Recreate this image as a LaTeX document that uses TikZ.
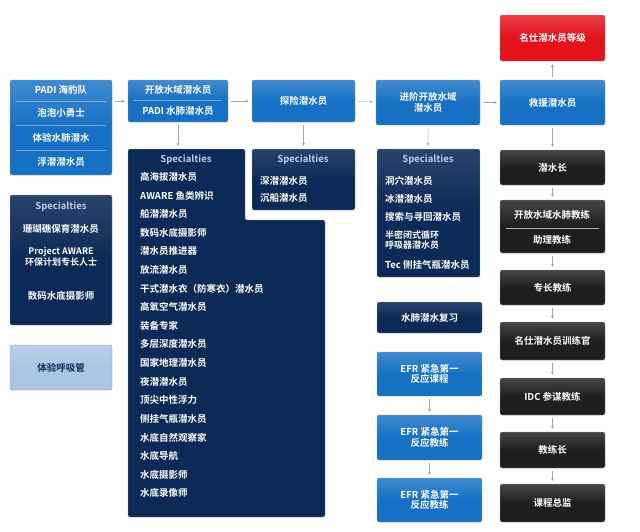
\documentclass[tikz,border=0pt]{standalone}
\usepackage{fontspec}
\setmainfont{Noto Sans CJK SC}[BoldFont={Noto Sans CJK SC Bold}]
\begin{document}
\begin{tikzpicture}[x=1pt,y=-1pt,
  every node/.style={font=\bfseries\fontsize{9.5}{10.5}\selectfont, text=white, inner sep=0pt},
  bbox/.style={draw=black!40, rounded corners=2pt, top color=#1!82!white, bottom color=#1, middle color=#1},
  blue/.style={bbox=blue1},
  navy/.style={draw=black!40, rounded corners=2pt, top color=navy1!88!white, bottom color=navy1, middle color=navy1},
  blk/.style={bbox=blk1},
  redb/.style={bbox=red1},
  light/.style={bbox=light1, text=navy1},
  arr/.style={->, >=stealth, draw=gray!70, thin, shorten >=3pt, shorten <=3pt},
  hd/.style={text=light1!80!white},
  it/.style={anchor=west}]
\definecolor{blue1}{HTML}{1671C4}
\definecolor{navy1}{HTML}{0C2A57}
\definecolor{blk1}{HTML}{1E1E1E}
\definecolor{red1}{HTML}{E3131B}
\definecolor{light1}{HTML}{A9C6E4}
\useasboundingbox[fill=white] (0,0) rectangle (640,531);
\newcommand\bx[7]{\node[#6, minimum width={(#4-#2)*1pt}, minimum height={(#5-#3)*1pt}, align=center] (#1) at ({(#2+#4)/2},{(#3+#5)/2}) {#7};}
% column 1
\bx{sea}{10}{80}{112}{175}{blue}{}
\node at (61,90) {PADI 海豹队};
\node at (61,113) {泡泡小勇士};
\node at (61,138) {体验水肺潜水};
\node at (61,162) {浮潜潜水员};
\draw[light1!70!blue1] (16,101) -- (106,101) (16,125) -- (106,125) (16,150) -- (106,150);
\bx{sp1}{10}{195}{112}{325}{navy}{}
\node[hd] at (61,207) {Specialties};
\node at (61,229) {珊瑚礁保育潜水员};
\node[align=center,font=\bfseries\fontsize{9}{9.5}\selectfont] at (61,257) {Project AWARE\\环保计划专长人士};
\node at (61,296) {数码水底摄影师};
\bx{snork}{10}{345}{112}{390}{light}{体验呼吸管}
% column 2
\bx{ow}{128}{80}{228}{122}{blue}{}
\node at (178,90) {开放水域潜水员};
\node at (178,111) {PADI 水肺潜水员};
\draw[light1!70!blue1] (134,100) -- (222,100);
\draw[rounded corners=2pt, fill=navy1, draw=black!40] (128,149) -- (245,149) -- (245,220) -- (325,220) -- (325,517) -- (128,517) -- cycle;
\node[hd] (sp2) at (186,160) {Specialties};
\foreach \t [count=\i from 0] in {高海拔潜水员,AWARE 鱼类辨识,船潜潜水员,数码水底摄影师,潜水员推进器,放流潜水员,干式潜水衣（防寒衣）潜水员,高氧空气潜水员,装备专家,多层深度潜水员,国家地理潜水员,夜潜潜水员,顶尖中性浮力,侧挂气瓶潜水员,水底自然观察家,水底导航,水底摄影师,水底录像师}
  \node[it] at (140,{177+\i*18.6}) {\t};
% column 3
\bx{adv}{252}{80}{355}{122}{blue}{探险潜水员}
\bx{sp3}{252}{149}{355}{210}{navy}{}
\node[hd] at (303,160) {Specialties};
\node[it] at (260,181) {深潜潜水员};
\node[it] at (260,198) {沉船潜水员};
% column 4
\bx{aow}{376}{80}{480}{125}{blue}{进阶开放水域\\潜水员}
\bx{sp4}{377}{149}{480}{277}{navy}{}
\node[hd] at (428,160) {Specialties};
\node[it] at (385,181) {洞穴潜水员};
\node[it] at (385,199) {冰潜潜水员};
\node[it] at (385,217) {搜索与寻回潜水员};
\node[it,align=left,font=\bfseries\fontsize{9}{9.5}\selectfont] at (385,240) {半密闭式循环\\呼吸器潜水员};
\node[it] at (385,265) {Tec 侧挂气瓶潜水员};
\bx{rev}{377}{302}{482}{333}{navy}{水肺潜水复习}
\bx{efr1}{377}{352}{482}{396}{blue}{EFR 紧急第一\\反应课程}
\bx{efr2}{377}{415}{482}{460}{blue}{EFR 紧急第一\\反应教练}
\bx{efr3}{377}{478}{482}{522}{blue}{EFR 紧急第一\\反应教练}
% column 5
\bx{mast}{500}{15}{605}{61}{redb}{名仕潜水员等级}
\bx{resc}{500}{80}{605}{125}{blue}{救援潜水员}
\bx{dm}{500}{150}{605}{185}{blk}{潜水长}
\bx{owsi}{500}{200}{605}{253}{blk}{}
\node at (552,215) {开放水域水肺教练};
\node at (552,240) {助理教练};
\draw[gray!60] (506,228) -- (599,228);
\bx{msi}{500}{270}{605}{305}{blk}{专长教练}
\bx{mdt}{500}{322}{605}{360}{blk}{名仕潜水员训练官}
\bx{idc}{500}{378}{605}{415}{blk}{IDC 参谋教练}
\bx{cd}{500}{432}{605}{468}{blk}{教练长}
\bx{cdir}{500}{484}{605}{522}{blk}{课程总监}
% arrows
\draw[arr] (sea.east|-ow) -- (ow.west);
\draw[arr] (ow) -- (adv);
\draw[arr] (adv) -- (aow);
\draw[arr] (aow) -- (resc);
\draw[arr] (resc) -- (mast);
\draw[arr] (ow.south) -- (ow.south|-128,149);
\draw[arr] (adv) -- (sp3);
\draw[arr] (aow) -- (sp4);
\draw[arr] (resc) -- (dm);
\draw[arr] (dm) -- (owsi);
\draw[arr] (owsi) -- (msi);
\draw[arr] (msi) -- (mdt);
\draw[arr] (mdt) -- (idc);
\draw[arr] (idc) -- (cd);
\draw[arr] (cd) -- (cdir);
\draw[arr] (efr1) -- (efr2);
\draw[arr] (efr2) -- (efr3);
\end{tikzpicture}
\end{document}
